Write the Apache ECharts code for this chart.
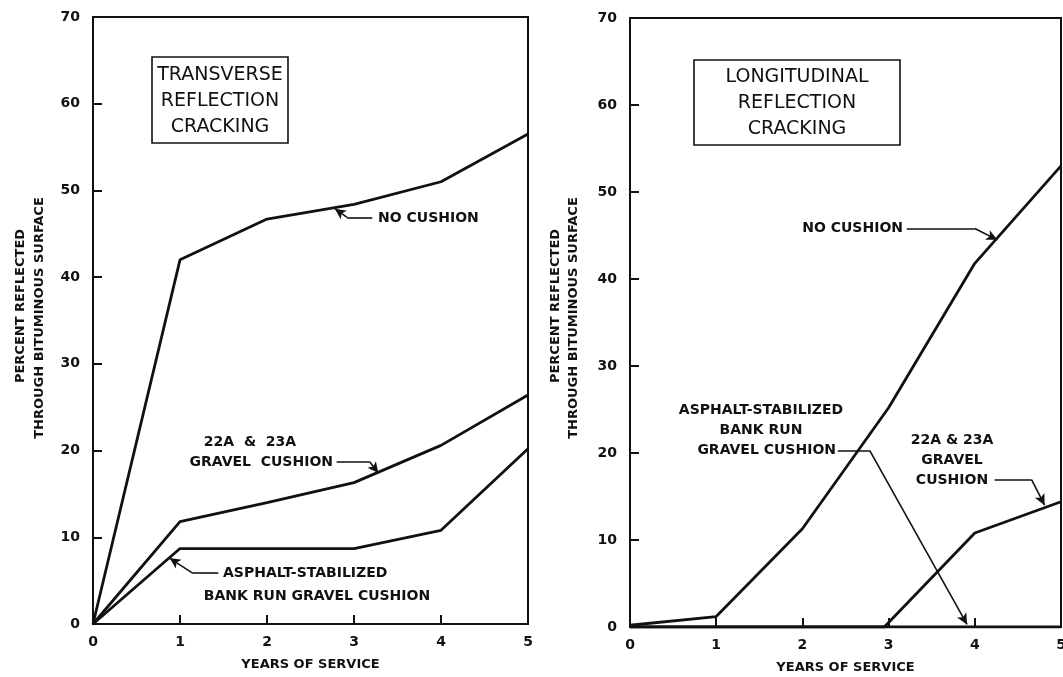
<!DOCTYPE html>
<html><head><meta charset="utf-8">
<script src="https://cdn.jsdelivr.net/npm/echarts@6/dist/echarts.min.js"></script>
<style>html,body{margin:0;padding:0;background:#fff}#c{width:1063px;height:677px}</style>
</head><body><div id="c"></div>
<script>
// ---- data ----
const years = [0, 1, 2, 3, 4, 5];
const transNoCushion = [0, 42.0, 46.7, 48.4, 51.0, 56.5];
const transGravel    = [0, 11.8, 14.0, 16.3, 20.6, 26.4];
const transAsphalt   = [0, 8.7, 8.7, 8.7, 10.8, 20.2];
const longNoCushion  = [0.2, 1.2, 11.3, 25.2, 41.8, 53.0];
const longGravelX    = [0, 2.95, 4, 5];
const longGravel     = [0, 0, 10.8, 14.4];
const longAsphalt    = [0, 0, 0, 0, 0, 0];
// leader lines (data coordinates): [from, bend, arrow tip]
const transLeaders = [
  [[3.21, 46.9], [2.92, 46.9], [2.78, 47.9]],
  [[2.80, 18.7], [3.18, 18.7], [3.28, 17.4]],
  [[1.44, 5.9], [1.14, 5.9], [0.88, 7.6]]
];
const longLeaders = [
  [[3.21, 45.8], [4.00, 45.8], [4.26, 44.5]],
  [[2.41, 20.3], [2.78, 20.3], [3.91, 0.3]],
  [[4.23, 16.9], [4.66, 16.9], [4.81, 14.0]]
];

const INK = '#111';
const FONT = '"DejaVu Sans", sans-serif';

function pairs(xs, ys) { return xs.map((x, i) => [x, ys[i]]); }
function leaderData(list) {
  const out = [];
  list.forEach(l => {
    out.push([{coord: l[0], symbol: 'none'}, {coord: l[1], symbol: 'none'}]);
    out.push([{coord: l[1], symbol: 'none'}, {coord: l[2], symbol: 'arrow'}]);
  });
  return out;
}
function lineSeries(xi, data, leaders) {
  const s = {
    type: 'line', xAxisIndex: xi, yAxisIndex: xi, data: data,
    showSymbol: false, symbol: 'none',
    lineStyle: {color: INK, width: 2.8}, itemStyle: {color: INK},
    silent: true
  };
  if (leaders) {
    s.markLine = {
      silent: true, animation: false,
      symbol: ['none', 'arrow'], symbolSize: [8, 11],
      label: {show: false},
      lineStyle: {color: INK, width: 1.6, type: 'solid'},
      emphasis: {disabled: true},
      data: leaderData(leaders)
    };
  }
  return s;
}

const axisCommon = {
  axisLine: {show: true, onZero: false, lineStyle: {color: INK, width: 2}},
  axisTick: {show: true, inside: true, length: 9, lineStyle: {color: INK, width: 2}},
  splitLine: {show: false},
  axisLabel: {color: INK, fontFamily: FONT, fontWeight: 'bold', fontSize: 14}
};
function xAx(gi) {
  return Object.assign({}, axisCommon, {
    type: 'value', gridIndex: gi, min: 0, max: 5, interval: 1,
    name: 'YEARS OF SERVICE', nameLocation: 'middle', nameGap: 34,
    nameTextStyle: {color: INK, fontFamily: FONT, fontWeight: 'bold', fontSize: 13},
    axisLabel: Object.assign({}, axisCommon.axisLabel, {margin: 11})
  });
}
function yAx(gi) {
  return Object.assign({}, axisCommon, {
    type: 'value', gridIndex: gi, min: 0, max: 70, interval: 10,
    axisLabel: Object.assign({}, axisCommon.axisLabel, {margin: 13})
  });
}

function txt(x, y, text, opts) {
  return Object.assign({
    type: 'text', x: x, y: y, z: 100,
    style: Object.assign({
      text: text, fill: INK, fontFamily: FONT, fontWeight: 'bold', fontSize: 14,
      align: 'center', verticalAlign: 'middle'
    }, opts || {})
  });
}
function titleBox(x, y, w, h, text) {
  return [
    {type: 'rect', z: 90, shape: {x: x, y: y, width: w, height: h},
     style: {fill: '#fff', stroke: INK, lineWidth: 1.6}},
    {type: 'text', z: 100, x: x + w / 2, y: y + h / 2 + 1,
     style: {text: text, fill: INK, fontFamily: FONT, fontWeight: 'normal', fontSize: 19,
             lineHeight: 26, align: 'center', verticalAlign: 'middle'}}
  ];
}
function yName(x1, x2, y) {
  return [
    {type: 'text', z: 100, x: x1, y: y - 12, rotation: Math.PI / 2,
     style: {text: 'PERCENT REFLECTED', fill: INK, fontFamily: FONT, fontWeight: 'bold', fontSize: 13,
             align: 'center', verticalAlign: 'middle'}},
    {type: 'text', z: 100, x: x2, y: y, rotation: Math.PI / 2,
     style: {text: 'THROUGH BITUMINOUS SURFACE', fill: INK, fontFamily: FONT, fontWeight: 'bold', fontSize: 13,
             align: 'center', verticalAlign: 'middle'}}
  ];
}

const graphics = [].concat(
  titleBox(152, 57, 136, 86, 'TRANSVERSE\nREFLECTION\nCRACKING'),
  titleBox(694, 60, 206, 85, 'LONGITUDINAL\nREFLECTION\nCRACKING'),
  yName(21, 40, 318),
  yName(556, 574, 318),
  [
    txt(378, 218, 'NO CUSHION', {align: 'left'}),
    txt(250, 442, '22A  &  23A'),
    txt(333, 462, 'GRAVEL  CUSHION', {align: 'right'}),
    txt(223, 573, 'ASPHALT-STABILIZED', {align: 'left'}),
    txt(317, 596, 'BANK RUN GRAVEL CUSHION'),
    txt(903, 228, 'NO CUSHION', {align: 'right'}),
    txt(761, 410, 'ASPHALT-STABILIZED'),
    txt(761, 430, 'BANK RUN'),
    txt(836, 450, 'GRAVEL CUSHION', {align: 'right'}),
    txt(952, 440, '22A & 23A'),
    txt(952, 460, 'GRAVEL'),
    txt(952, 480, 'CUSHION')
  ]
);

const chart = echarts.init(document.getElementById('c'), null, {renderer: 'canvas'});
chart.setOption({
  animation: false,
  backgroundColor: '#fff',
  grid: [
    {left: 93, top: 17, width: 435, height: 607, show: true, borderColor: INK, borderWidth: 2,
     backgroundColor: 'transparent', containLabel: false, outerBoundsMode: 'none'},
    {left: 630, top: 18, width: 431, height: 609, show: true, borderColor: INK, borderWidth: 2,
     backgroundColor: 'transparent', containLabel: false, outerBoundsMode: 'none'}
  ],
  xAxis: [xAx(0), xAx(1)],
  yAxis: [yAx(0), yAx(1)],
  series: [
    lineSeries(0, pairs(years, transNoCushion), transLeaders),
    lineSeries(0, pairs(years, transGravel)),
    lineSeries(0, pairs(years, transAsphalt)),
    lineSeries(1, pairs(years, longNoCushion), longLeaders),
    lineSeries(1, pairs(longGravelX, longGravel)),
    lineSeries(1, pairs(years, longAsphalt))
  ],
  graphic: graphics
});
</script>
</body></html>
